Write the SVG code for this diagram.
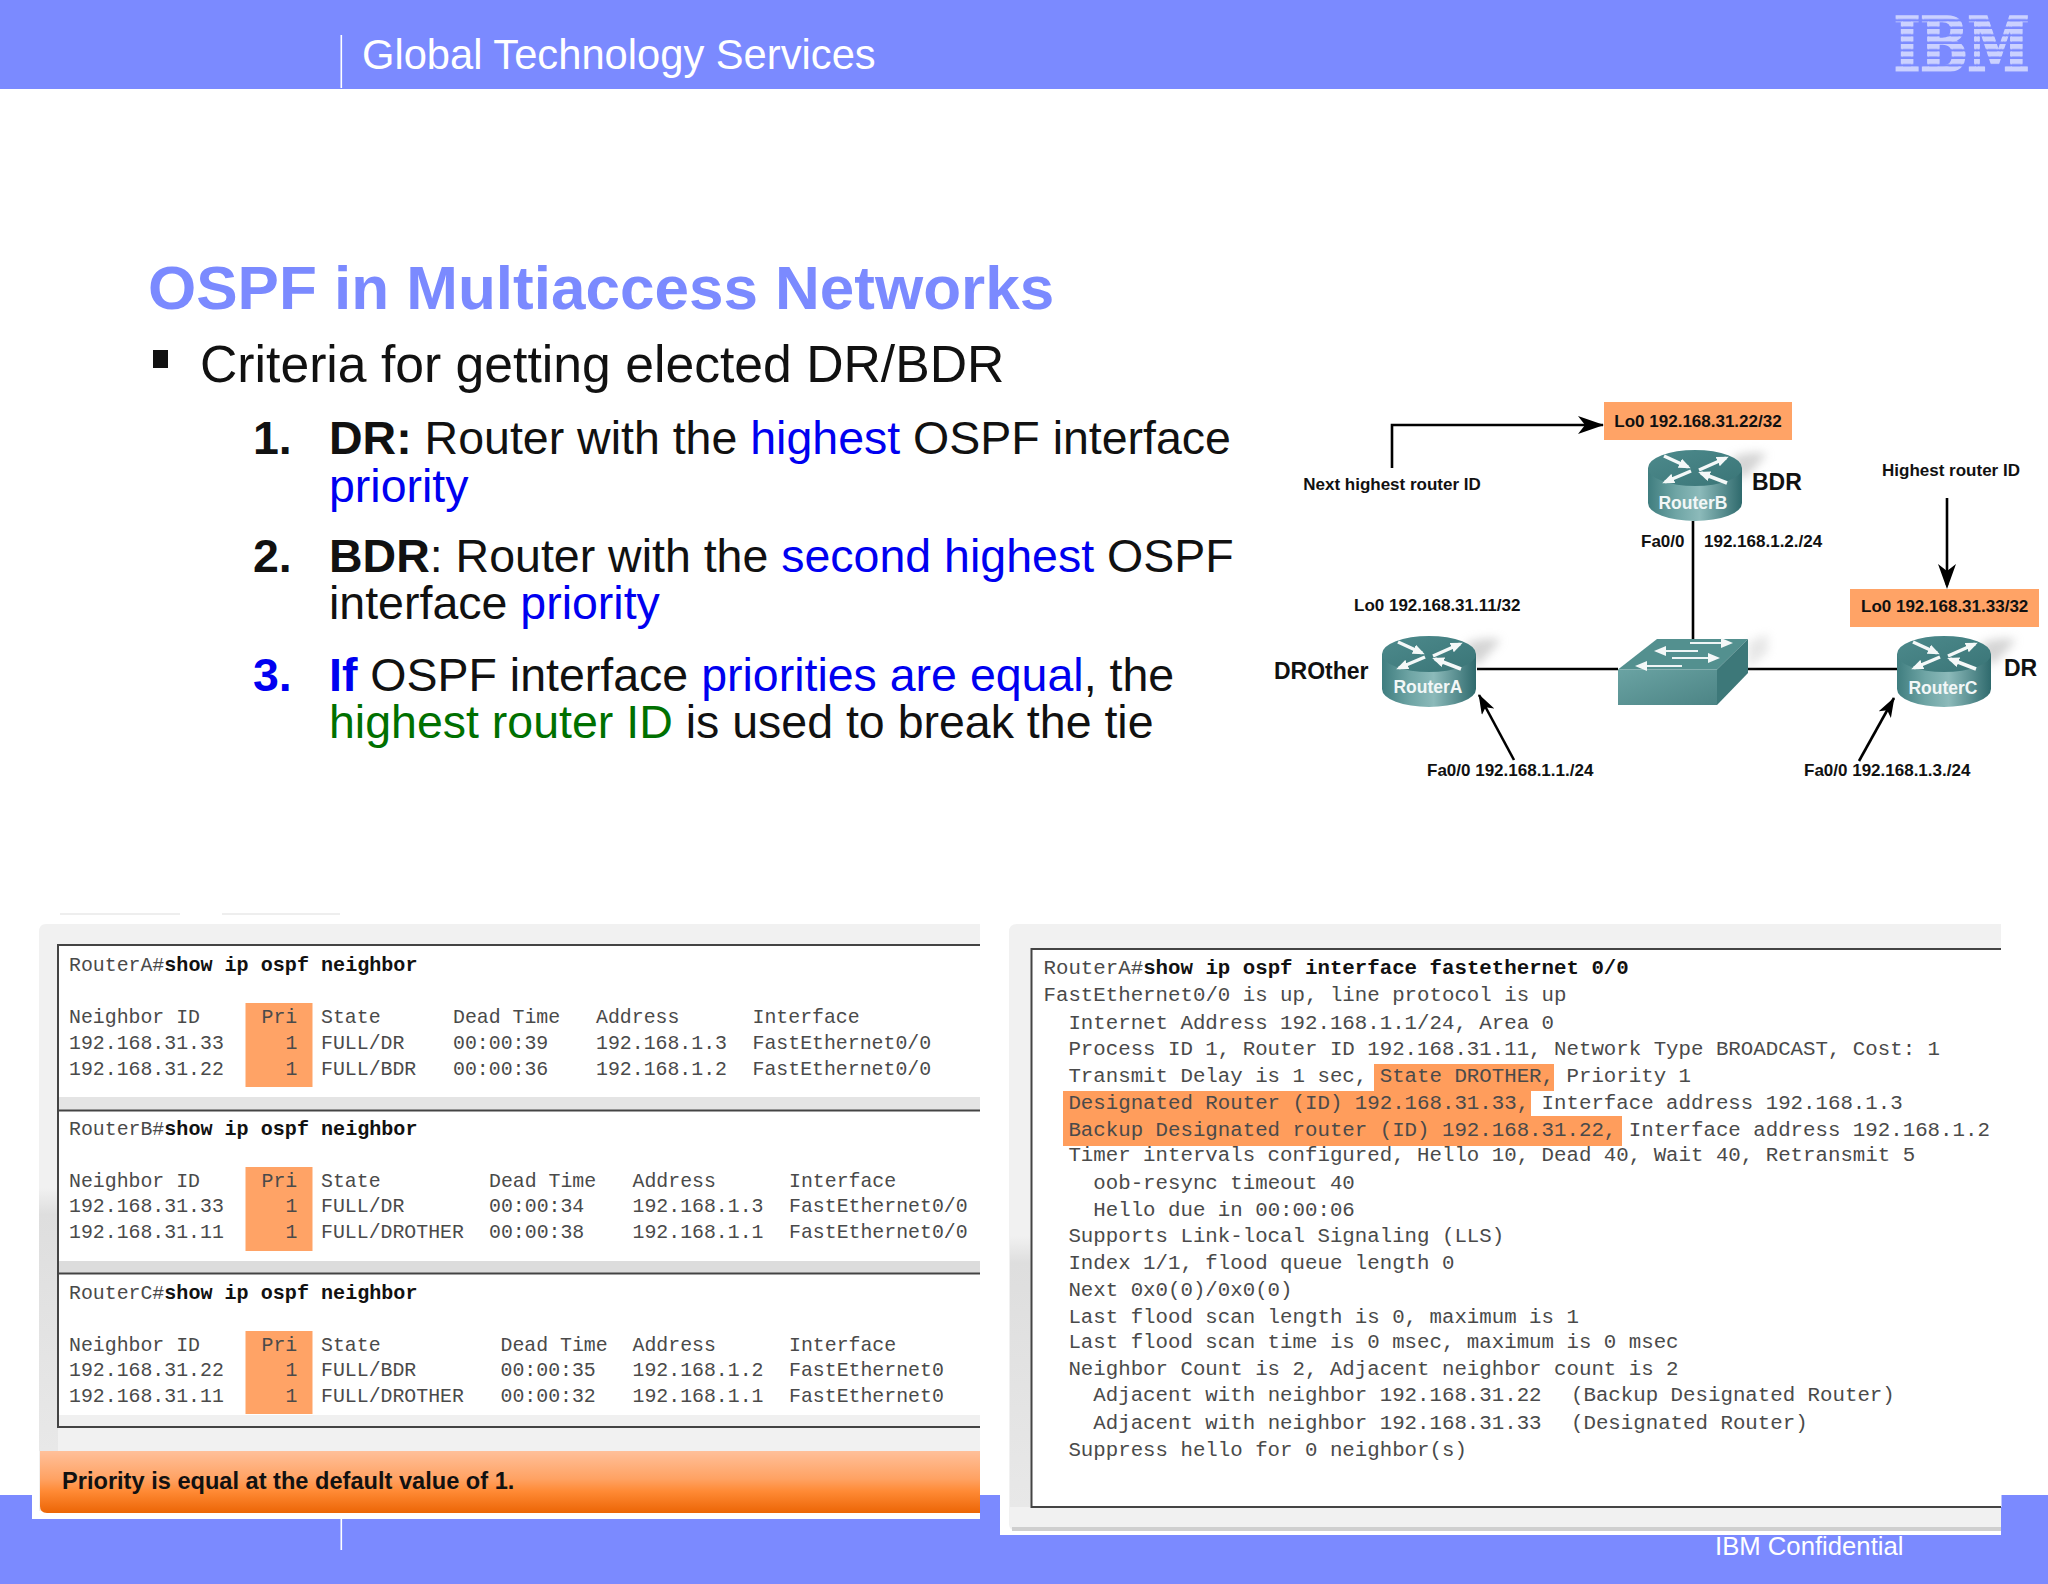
<svg xmlns="http://www.w3.org/2000/svg" width="2048" height="1584" viewBox="0 0 2048 1584">
<style>
svg{font-family:"Liberation Sans",Arial,sans-serif}
.b{font-weight:bold}
.m{font-family:"Liberation Mono","Courier New",monospace;fill:#4a4a4a}
.l{font-size:19.85px}
.r{font-size:20.75px}
.k{font-weight:bold;fill:#111}
.l .k{font-size:20.1px}
.h{font-size:46.5px;fill:#111}
.blue{fill:#0000f0}
.green{fill:#007000}
.d{font-size:17px;font-weight:bold;fill:#111}
.rl{font-size:17.5px;fill:#f2f7f7;text-anchor:middle;font-weight:bold}
.lab{font-size:23px;font-weight:bold;fill:#111}
.con{fill:none;stroke:#000;stroke-width:2.6}
.bg{fill:#7b8aff}
.pri{fill:#ffa366}
.hl{fill:#ff9d5c}
.ln{stroke:#444;stroke-width:2;fill:none}
.w{fill:#fff}
.wa{stroke:#f4f8f8;stroke-width:3.5;marker-end:url(#wh)}
.sa{stroke:#eef5f5;stroke-width:2;marker-end:url(#wh)}
</style>
<defs>
<pattern id="ibm" patternUnits="userSpaceOnUse" x="0" y="-42.860" width="10" height="5.640"><rect width="10" height="3.760" fill="#cbd1ff"/></pattern>
<linearGradient id="bar" x1="0" y1="0" x2="0" y2="1"><stop offset="0" stop-color="#ffc09a"/><stop offset=".45" stop-color="#ffa263"/><stop offset=".65" stop-color="#ff8a35"/><stop offset="1" stop-color="#ec6505"/></linearGradient>
<linearGradient id="body" x1="0" y1="0" x2="1" y2="0"><stop offset="0" stop-color="#3f7d7f"/><stop offset=".3" stop-color="#6fa5a5"/><stop offset=".55" stop-color="#8cbaba"/><stop offset="1" stop-color="#2f6a6d"/></linearGradient>
<linearGradient id="top" x1="0" y1="0" x2="1" y2="1"><stop offset="0" stop-color="#4d8a8c"/><stop offset="1" stop-color="#3a7577"/></linearGradient>
<linearGradient id="strip" x1="0" y1="0" x2="0" y2="1"><stop offset="0" stop-color="#f1f1f1"/><stop offset=".1" stop-color="#dedede"/><stop offset="1" stop-color="#e8e8e8"/></linearGradient>
<linearGradient id="front" x1="0" y1="0" x2="1" y2="1"><stop offset="0" stop-color="#6aa3a3"/><stop offset="1" stop-color="#4c8485"/></linearGradient>
<filter id="blur" x="-50%" y="-50%" width="200%" height="200%"><feGaussianBlur stdDeviation="5"/></filter>
<marker id="ah" markerUnits="userSpaceOnUse" markerWidth="26" markerHeight="18" viewBox="0 0 26 18" refX="25" refY="9" orient="auto"><path d="M0 0L26 9L0 18L7 9Z" fill="#000"/></marker>
<marker id="ad" markerUnits="userSpaceOnUse" markerWidth="20" markerHeight="14" viewBox="0 0 20 14" refX="19" refY="7" orient="auto"><path d="M0 0L20 7L0 14L5 7Z" fill="#000"/></marker>
<marker id="wh" markerUnits="userSpaceOnUse" markerWidth="12" markerHeight="10" viewBox="0 0 12 10" refX="9" refY="5" orient="auto"><path d="M0 0L12 5L0 10Z" fill="#f4f8f8"/></marker>
<g id="router">
<path d="M36-10C50-16 62-16 72-14L54 6 46 12Z" fill="#aaa" opacity=".5" filter="url(#blur)"/>
<path d="M-47 0V35A47 18 0 0 0 47 35V0Z" fill="url(#body)"/>
<ellipse cx="0" cy="0" rx="47" ry="18" fill="url(#top)"/>
<line class="wa" x1="-31" y1="-12" x2="-7" y2="-1"/>
<line class="wa" x1="4" y1="2" x2="31" y2="-10"/>
<line class="wa" x1="-4" y1="3" x2="-30" y2="14"/>
<line class="wa" x1="32" y1="15" x2="6" y2="5"/>
</g>
</defs>
<rect width="2048" height="1584" fill="#fff"/>

<g id="header">
<rect class="bg" width="2048" height="89"/>
<rect x="340.500" y="35" width="1.600" height="53" class="w"/>
<text x="362" y="69" font-size="41.700" fill="#fff">Global Technology Services</text>
<text id="logo" transform="translate(1894,71) scale(1,1.330)" font-size="56" fill="url(#ibm)" stroke="url(#ibm)" stroke-width="2" style="font-family:'DejaVu Serif',serif;font-weight:bold">IBM</text>
</g>

<g id="footer">
<rect class="bg" y="1495" width="2048" height="89"/>
</g>

<g id="slide-text">
<text x="148" y="309" font-size="62" font-weight="bold" fill="#7b8aff">OSPF in Multiaccess Networks</text>
<rect x="153" y="350" width="15" height="18" fill="#111"/>
<text x="200" y="382" font-size="51.700" fill="#111">Criteria for getting elected DR/BDR</text>
<text class="h" y="454"><tspan class="b" x="253">1.</tspan><tspan class="b" x="329">DR:</tspan> Router with the <tspan class="blue">highest</tspan> OSPF interface</text>
<text class="h blue" x="329" y="502">priority</text>
<text class="h" y="572"><tspan class="b" x="253">2.</tspan><tspan class="b" x="329">BDR</tspan>: Router with the <tspan class="blue">second highest</tspan> OSPF</text>
<text class="h" x="329" y="619">interface <tspan class="blue">priority</tspan></text>
<text class="h" y="691"><tspan class="b blue" x="253">3.</tspan><tspan class="b blue" x="329">If</tspan> OSPF interface <tspan class="blue">priorities are equal</tspan>, the</text>
<text class="h" x="329" y="738"><tspan class="green">highest router ID</tspan> is used to break the tie</text>
</g>

<g id="connectors">
<path class="con" d="M1477 669H1618M1748 669H1897M1693 521V640"/>
<path class="con" d="M1392 468V425H1603" marker-end="url(#ah)"/>
<path class="con" d="M1947 498V585"/>
<line class="con" x1="1514" y1="760" x2="1479" y2="695" marker-end="url(#ad)"/>
<line class="con" x1="1859" y1="761" x2="1894" y2="698" marker-end="url(#ad)"/>
<path d="M1938 564L1947 589 1956 564 1947 571Z"/>
</g>

<g id="lo-b"><rect x="1604" y="402" width="188" height="38" fill="#ffa366"/><text class="d" x="1698" y="427" text-anchor="middle">Lo0 192.168.31.22/32</text></g>
<g id="lo-c"><rect x="1850" y="589" width="189" height="38" fill="#ffa366"/><text class="d" x="1861" y="612">Lo0 192.168.31.33/32</text></g>
<g id="labels">
<text class="d" x="1392" y="490" text-anchor="middle">Next highest router ID</text>
<text class="d" x="1951" y="476" text-anchor="middle">Highest router ID</text>
<text class="d" x="1641" y="547">Fa0/0</text>
<text class="d" x="1704" y="547">192.168.1.2./24</text>
<text class="d" x="1354" y="611">Lo0 192.168.31.11/32</text>
<text class="d" x="1427" y="776">Fa0/0 192.168.1.1./24</text>
<text class="d" x="1804" y="776">Fa0/0 192.168.1.3./24</text>
</g>
<g id="routerB"><use href="#router" x="1695" y="468"/><text class="rl" x="1693" y="509">RouterB</text><text class="lab" x="1752" y="490">BDR</text></g>
<g id="routerA"><use href="#router" x="1429" y="654"/><text class="rl" x="1428" y="693">RouterA</text><text class="lab" x="1274" y="679">DROther</text></g>
<g id="routerC"><use href="#router" x="1944" y="654"/><text class="rl" x="1943" y="694">RouterC</text><text class="lab" x="2004" y="676">DR</text></g>
<g id="switch">
<path d="M1748 642L1768 634 1768 652 1748 668Z" fill="#bbb" opacity=".35" filter="url(#blur)"/>
<path d="M1618 669.500L1657 639H1748L1717 669.500Z" fill="#53908f"/>
<path d="M1717 669.500L1748 639V673L1717 705Z" fill="#3d7879"/>
<path d="M1618 669.500H1717V705H1618Z" fill="url(#front)"/>
<line x1="1690" y1="643" x2="1730" y2="643" class="sa"/>
<line x1="1698" y1="651" x2="1657" y2="651" class="sa"/>
<line x1="1672" y1="658" x2="1717" y2="658" class="sa"/>
<line x1="1682" y1="666" x2="1638" y2="666" class="sa"/>
</g>

<g id="panel-left">
<rect x="32" y="918" width="948" height="601" class="w"/>
<path d="M60 914H180M222 914H340" stroke="#eee" stroke-width="2"/>
<path d="M980 924H46Q39 924 39 932V1511H980Z" fill="#f1f1f1"/>
<rect x="39" y="1188" width="19" height="263" fill="url(#strip)"/>
<rect x="58" y="945" width="922" height="482" class="w"/>
<rect x="59" y="1097" width="921" height="13" fill="#e4e4e4"/>
<rect x="59" y="1261" width="921" height="12" fill="#dcdcdc"/>
<rect x="59" y="1415" width="921" height="12" fill="#f0f0f0"/>
<path class="ln" d="M980 945H58V1427H980M59 1110.500H980M59 1273.500H980"/>
<rect class="pri" x="245.500" y="1003" width="67" height="84"/>
<rect class="pri" x="245.500" y="1167" width="67" height="84"/>
<rect class="pri" x="245.500" y="1331" width="67" height="83"/>
<g class="m l" transform="translate(0,-1)">
<text x="69" y="972">RouterA#<tspan class="k">show ip ospf neighbor</tspan></text>
<text x="69" y="1024">Neighbor ID</text><text x="261.500" y="1024">Pri</text><text x="321" y="1024">State</text><text x="453" y="1024">Dead Time</text><text x="596" y="1024">Address</text><text x="752.500" y="1024">Interface</text>
<text x="69" y="1050">192.168.31.33</text><text x="285.500" y="1050">1</text><text x="321" y="1050">FULL/DR</text><text x="453" y="1050">00:00:39</text><text x="596" y="1050">192.168.1.3</text><text x="752.500" y="1050">FastEthernet0/0</text>
<text x="69" y="1076">192.168.31.22</text><text x="285.500" y="1076">1</text><text x="321" y="1076">FULL/BDR</text><text x="453" y="1076">00:00:36</text><text x="596" y="1076">192.168.1.2</text><text x="752.500" y="1076">FastEthernet0/0</text>
<text x="69" y="1136">RouterB#<tspan class="k">show ip ospf neighbor</tspan></text>
<text x="69" y="1188">Neighbor ID</text><text x="261.500" y="1188">Pri</text><text x="321" y="1188">State</text><text x="489" y="1188">Dead Time</text><text x="632.500" y="1188">Address</text><text x="789" y="1188">Interface</text>
<text x="69" y="1213">192.168.31.33</text><text x="285.500" y="1213">1</text><text x="321" y="1213">FULL/DR</text><text x="489" y="1213">00:00:34</text><text x="632.500" y="1213">192.168.1.3</text><text x="789" y="1213">FastEthernet0/0</text>
<text x="69" y="1239">192.168.31.11</text><text x="285.500" y="1239">1</text><text x="321" y="1239">FULL/DROTHER</text><text x="489" y="1239">00:00:38</text><text x="632.500" y="1239">192.168.1.1</text><text x="789" y="1239">FastEthernet0/0</text>
<text x="69" y="1300">RouterC#<tspan class="k">show ip ospf neighbor</tspan></text>
<text x="69" y="1352">Neighbor ID</text><text x="261.500" y="1352">Pri</text><text x="321" y="1352">State</text><text x="500.500" y="1352">Dead Time</text><text x="632.500" y="1352">Address</text><text x="789" y="1352">Interface</text>
<text x="69" y="1377">192.168.31.22</text><text x="285.500" y="1377">1</text><text x="321" y="1377">FULL/BDR</text><text x="500.500" y="1377">00:00:35</text><text x="632.500" y="1377">192.168.1.2</text><text x="789" y="1377">FastEthernet0</text>
<text x="69" y="1403">192.168.31.11</text><text x="285.500" y="1403">1</text><text x="321" y="1403">FULL/DROTHER</text><text x="500.500" y="1403">00:00:32</text><text x="632.500" y="1403">192.168.1.1</text><text x="789" y="1403">FastEthernet0</text>
</g>
<path d="M980 1451H40V1506Q40 1513 47 1513H980Z" fill="url(#bar)"/>
<text x="62" y="1489" font-size="23.600" font-weight="bold" fill="#111">Priority is equal at the default value of 1.</text>
<rect x="340.500" y="1519" width="1.600" height="31" class="w"/>
</g>

<g id="panel-right">
<rect x="1000" y="918" width="1001" height="617" class="w"/>
<path d="M2001 924H1017Q1009 924 1009 932V1524Q1009 1531 1017 1531H2001Z" fill="#f1f1f1"/>
<rect x="1010" y="1236" width="21" height="271" fill="url(#strip)"/>
<rect x="1012" y="1527" width="989" height="4" fill="#cfcfcf"/>
<rect x="1031.500" y="949" width="970" height="558" class="w"/>
<path class="ln" d="M2001 949H1031.500V1507H2001" stroke="#666"/>
<rect class="hl" x="1374" y="1064" width="180" height="27"/>
<rect class="hl" x="1063" y="1091" width="468" height="26"/>
<rect class="hl" x="1063" y="1116" width="559" height="30"/>
<g class="m r" transform="translate(0,-1)">
<text x="1043.500" y="975">RouterA#<tspan class="k">show ip ospf interface fastethernet 0/0</tspan></text>
<text x="1043.500" y="1002">FastEthernet0/0 is up, line protocol is up</text>
<text x="1068.400" y="1030">Internet Address 192.168.1.1/24, Area 0</text>
<text x="1068.400" y="1056">Process ID 1, Router ID 192.168.31.11, Network Type BROADCAST, Cost: 1</text>
<text x="1068.400" y="1083">Transmit Delay is 1 sec, State DROTHER, Priority 1</text>
<text x="1068.400" y="1110">Designated Router (ID) 192.168.31.33, Interface address 192.168.1.3</text>
<text x="1068.400" y="1137">Backup Designated router (ID) 192.168.31.22, Interface address 192.168.1.2</text>
<text x="1068.400" y="1162">Timer intervals configured, Hello 10, Dead 40, Wait 40, Retransmit 5</text>
<text x="1093.300" y="1190">oob-resync timeout 40</text>
<text x="1093.300" y="1217">Hello due in 00:00:06</text>
<text x="1068.400" y="1243">Supports Link-local Signaling (LLS)</text>
<text x="1068.400" y="1270">Index 1/1, flood queue length 0</text>
<text x="1068.400" y="1297">Next 0x0(0)/0x0(0)</text>
<text x="1068.400" y="1324">Last flood scan length is 0, maximum is 1</text>
<text x="1068.400" y="1349">Last flood scan time is 0 msec, maximum is 0 msec</text>
<text x="1068.400" y="1376">Neighbor Count is 2, Adjacent neighbor count is 2</text>
<text x="1093.300" y="1402">Adjacent with neighbor 192.168.31.22 <tspan x="1571">(Backup Designated Router)</tspan></text>
<text x="1093.300" y="1430">Adjacent with neighbor 192.168.31.33 <tspan x="1571">(Designated Router)</tspan></text>
<text x="1068.400" y="1457">Suppress hello for 0 neighbor(s)</text>
</g>
</g>
<text id="confidential" x="1715" y="1555" font-size="25.700" fill="#fff">IBM Confidential</text>
</svg>
